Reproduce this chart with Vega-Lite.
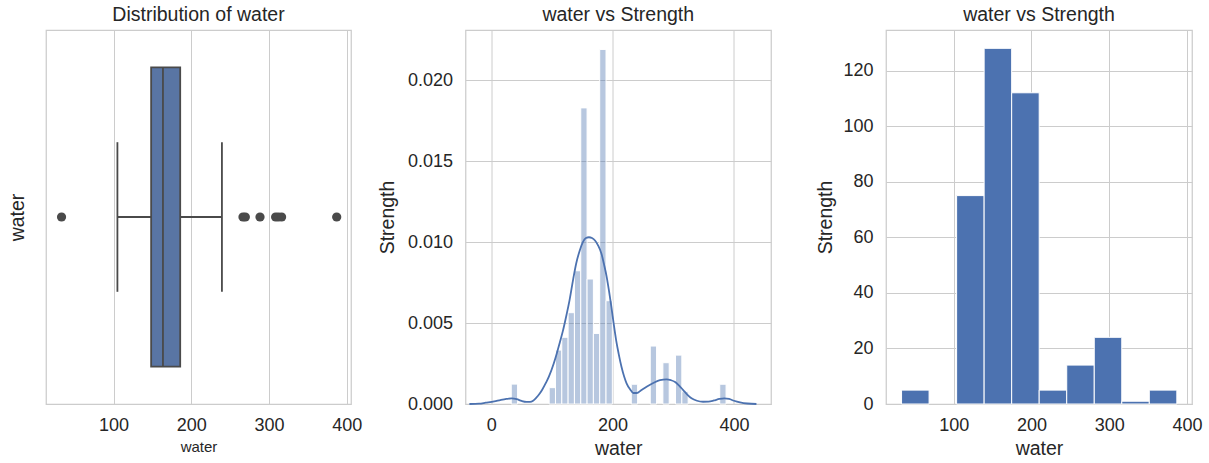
{
  "$schema": "https://vega.github.io/schema/vega-lite/v6.json",
  "background": "white",
  "padding": {"left": 6, "top": 3, "right": 5, "bottom": 0},
  "autosize": {"type": "pad"},
  "bounds": "flush",
  "spacing": 114.5,
  "config": {
    "font": "Liberation Sans",
    "view": {"stroke": "#cccccc", "strokeWidth": 1.25},
    "axis": {
      "gridColor": "#cccccc", "gridWidth": 1, "domain": false, "ticks": false,
      "labelFontSize": 18, "labelColor": "#262626", "labelFont": "Liberation Sans",
      "titleFontSize": 19.5, "titleColor": "#262626", "titleFontWeight": "normal", "titleFont": "Liberation Sans"
    },
    "axisX": {"labelPadding": 12, "titlePadding": 5},
    "axisY": {"labelPadding": 13, "titlePadding": 10},
    "title": {"fontSize": 19.5, "fontWeight": "normal", "color": "#262626", "font": "Liberation Sans", "offset": 5, "baseline": "alphabetic"}
  },
  "datasets": {
    "box": [{"var": "water", "lower": 104.9, "q1": 148.3, "median": 163.5, "q3": 185.7, "upper": 239.4}],
    "outliers": [{"water": 33}, {"water": 266.5}, {"water": 269.5}, {"water": 288.4}, {"water": 308.5}, {"water": 312}, {"water": 316.2}, {"water": 387.1}],
    "hist2": [
      {"start": 33, "end": 43.41, "density": 0.00123},
      {"start": 95.46, "end": 105.87, "density": 0.00101},
      {"start": 105.87, "end": 116.28, "density": 0.00333},
      {"start": 116.28, "end": 126.69, "density": 0.00412},
      {"start": 126.69, "end": 137.1, "density": 0.00564},
      {"start": 137.1, "end": 147.51, "density": 0.00823},
      {"start": 147.51, "end": 157.92, "density": 0.01829},
      {"start": 157.92, "end": 168.33, "density": 0.00772},
      {"start": 168.33, "end": 178.74, "density": 0.00436},
      {"start": 178.74, "end": 189.15, "density": 0.0219},
      {"start": 189.15, "end": 199.56, "density": 0.00638},
      {"start": 230.79, "end": 241.2, "density": 0.00122},
      {"start": 262.03, "end": 272.44, "density": 0.00358},
      {"start": 282.85, "end": 293.26, "density": 0.00255},
      {"start": 303.67, "end": 314.08, "density": 0.00302},
      {"start": 314.08, "end": 324.49, "density": 0.00076},
      {"start": 376.54, "end": 386.95, "density": 0.00122}
    ],
    "kde": [
      {"water": -36, "density": 0},
      {"water": -20, "density": 0.00002},
      {"water": -9, "density": 0.00008},
      {"water": 5, "density": 0.00016},
      {"water": 15, "density": 0.00024},
      {"water": 25, "density": 0.00031},
      {"water": 33.5, "density": 0.00035},
      {"water": 42, "density": 0.0003},
      {"water": 50, "density": 0.00019},
      {"water": 58, "density": 0.00013},
      {"water": 64, "density": 0.00013},
      {"water": 69, "density": 0.0002},
      {"water": 74, "density": 0.00038},
      {"water": 79, "density": 0.0006},
      {"water": 84, "density": 0.00088},
      {"water": 90, "density": 0.0013},
      {"water": 95, "density": 0.00169},
      {"water": 103, "density": 0.0025},
      {"water": 108.6, "density": 0.0032},
      {"water": 113, "density": 0.0038},
      {"water": 118, "density": 0.0045},
      {"water": 124, "density": 0.0055},
      {"water": 129, "density": 0.0064},
      {"water": 135, "density": 0.0077},
      {"water": 140, "density": 0.00868},
      {"water": 146, "density": 0.0095},
      {"water": 151, "density": 0.01},
      {"water": 156, "density": 0.01025},
      {"water": 161, "density": 0.0103},
      {"water": 166, "density": 0.01025},
      {"water": 171, "density": 0.0101},
      {"water": 176, "density": 0.0098},
      {"water": 181.5, "density": 0.0093},
      {"water": 186, "density": 0.0086},
      {"water": 190, "density": 0.0079},
      {"water": 194, "density": 0.007},
      {"water": 198, "density": 0.006},
      {"water": 202, "density": 0.0049},
      {"water": 206, "density": 0.0039},
      {"water": 210, "density": 0.0031},
      {"water": 214.6, "density": 0.0023},
      {"water": 219, "density": 0.0017},
      {"water": 223, "density": 0.00128},
      {"water": 229, "density": 0.0009},
      {"water": 234, "density": 0.00068},
      {"water": 240, "density": 0.00068},
      {"water": 247, "density": 0.00085},
      {"water": 256, "density": 0.00107},
      {"water": 267, "density": 0.0013},
      {"water": 278, "density": 0.00148},
      {"water": 289, "density": 0.00152},
      {"water": 296, "density": 0.00147},
      {"water": 303, "density": 0.00136},
      {"water": 310, "density": 0.00112},
      {"water": 316.3, "density": 0.00086},
      {"water": 323, "density": 0.00058},
      {"water": 330, "density": 0.00035},
      {"water": 339, "density": 0.0002},
      {"water": 349, "density": 0.00014},
      {"water": 358, "density": 0.00015},
      {"water": 367, "density": 0.00022},
      {"water": 376, "density": 0.00031},
      {"water": 384, "density": 0.00035},
      {"water": 392, "density": 0.00031},
      {"water": 400, "density": 0.0002},
      {"water": 410, "density": 0.0001},
      {"water": 422, "density": 0.00003},
      {"water": 437, "density": 0}
    ],
    "hist3": [
      {"start": 33, "end": 68.4, "count": 5},
      {"start": 103.8, "end": 139.2, "count": 75},
      {"start": 139.2, "end": 174.6, "count": 128},
      {"start": 174.6, "end": 210, "count": 112},
      {"start": 210, "end": 245.4, "count": 5},
      {"start": 245.4, "end": 280.8, "count": 14},
      {"start": 280.8, "end": 316.2, "count": 24},
      {"start": 316.2, "end": 351.6, "count": 1},
      {"start": 351.6, "end": 387, "count": 5}
    ]
  },
  "hconcat": [
    {
      "width": 305, "height": 374,
      "title": "Distribution of water",
      "layer": [
        {
          "data": {"name": "box"},
          "mark": {"type": "rule", "color": "#4a4a4a", "strokeWidth": 1.8},
          "encoding": {
            "x": {"field": "lower", "type": "quantitative", "scale": {"domain": [13, 405.5], "nice": false, "zero": false},
                  "axis": {"title": "water", "titleFontSize": 15, "values": [100, 200, 300, 400], "grid": true}},
            "x2": {"field": "q1"},
            "y": {"datum": 0, "type": "quantitative", "scale": {"domain": [-0.5, 0.5], "nice": false},
                  "axis": {"title": "water", "labels": false, "grid": false, "titlePadding": 19}}
          }
        },
        {
          "data": {"name": "box"},
          "mark": {"type": "rule", "color": "#4a4a4a", "strokeWidth": 1.8},
          "encoding": {
            "x": {"field": "q3", "type": "quantitative"},
            "x2": {"field": "upper"},
            "y": {"datum": 0, "type": "quantitative"}
          }
        },
        {
          "data": {"name": "box"},
          "mark": {"type": "bar", "fill": "#5975a4", "stroke": "#4a4a4a", "strokeWidth": 1.8},
          "encoding": {
            "x": {"field": "q1", "type": "quantitative"},
            "x2": {"field": "q3"},
            "y": {"datum": -0.4, "type": "quantitative"},
            "y2": {"datum": 0.4}
          }
        },
        {
          "data": {"name": "box"},
          "mark": {"type": "rule", "color": "#4a4a4a", "strokeWidth": 1.8},
          "encoding": {
            "x": {"field": "median", "type": "quantitative"},
            "y": {"datum": -0.4, "type": "quantitative"},
            "y2": {"datum": 0.4}
          }
        },
        {
          "data": {"name": "box"},
          "mark": {"type": "rule", "color": "#4a4a4a", "strokeWidth": 1.8},
          "encoding": {
            "x": {"field": "lower", "type": "quantitative"},
            "y": {"datum": -0.2, "type": "quantitative"},
            "y2": {"datum": 0.2}
          }
        },
        {
          "data": {"name": "box"},
          "mark": {"type": "rule", "color": "#4a4a4a", "strokeWidth": 1.8},
          "encoding": {
            "x": {"field": "upper", "type": "quantitative"},
            "y": {"datum": -0.2, "type": "quantitative"},
            "y2": {"datum": 0.2}
          }
        },
        {
          "data": {"name": "outliers"},
          "mark": {"type": "point", "filled": true, "shape": "circle", "size": 85, "color": "#4a4a4a", "opacity": 1},
          "encoding": {
            "x": {"field": "water", "type": "quantitative"},
            "y": {"datum": 0, "type": "quantitative"}
          }
        }
      ]
    },
    {
      "width": 305.5, "height": 374,
      "title": "water vs Strength",
      "layer": [
        {
          "data": {"name": "hist2"},
          "mark": {"type": "bar", "fill": "#4c72b0", "fillOpacity": 0.4, "stroke": "white", "strokeWidth": 1},
          "encoding": {
            "x": {"field": "start", "type": "quantitative", "scale": {"domain": [-42.4, 461], "nice": false, "zero": false},
                  "axis": {"title": "water", "values": [0, 200, 400], "grid": true}},
            "x2": {"field": "end"},
            "y": {"field": "density", "type": "quantitative", "scale": {"domain": [0, 0.0231], "nice": false},
                  "axis": {"title": "Strength", "values": [0, 0.005, 0.01, 0.015, 0.02], "format": ".3f", "grid": true}},
            "y2": {"datum": 0}
          }
        },
        {
          "data": {"name": "kde"},
          "mark": {"type": "line", "color": "#4c72b0", "strokeWidth": 1.8, "interpolate": "monotone"},
          "encoding": {
            "x": {"field": "water", "type": "quantitative"},
            "y": {"field": "density", "type": "quantitative"}
          }
        }
      ]
    },
    {
      "width": 306, "height": 374,
      "title": "water vs Strength",
      "data": {"name": "hist3"},
      "mark": {"type": "bar", "fill": "#4c72b0", "stroke": "white", "strokeWidth": 1},
      "encoding": {
        "x": {"field": "start", "type": "quantitative", "scale": {"domain": [13, 406.5], "nice": false, "zero": false},
              "axis": {"title": "water", "values": [100, 200, 300, 400], "grid": true}},
        "x2": {"field": "end"},
        "y": {"field": "count", "type": "quantitative", "scale": {"domain": [0, 134.6], "nice": false},
              "axis": {"title": "Strength", "values": [0, 20, 40, 60, 80, 100, 120], "grid": true, "titlePadding": 7}},
        "y2": {"datum": 0}
      }
    }
  ],
  "resolve": {"scale": {"x": "independent", "y": "independent"}}
}
